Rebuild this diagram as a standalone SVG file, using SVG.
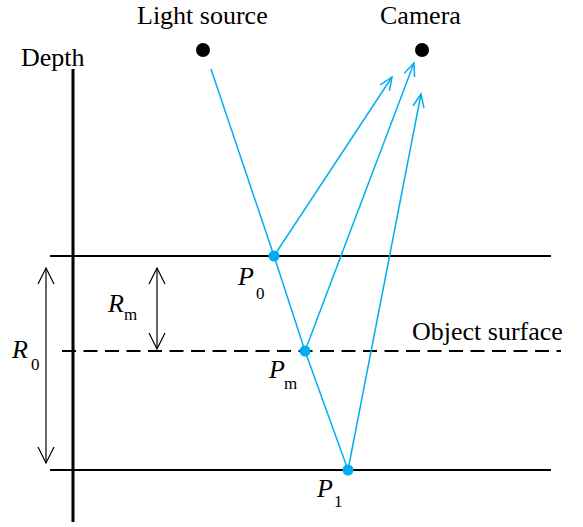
<svg xmlns="http://www.w3.org/2000/svg" width="583" height="527" viewBox="0 0 583 527">
<style>
text{font-family:'Liberation Serif','Times New Roman',Times,'DejaVu Serif',serif;fill:#000}
.t{font-size:26px}
.i{font-style:italic}
.s{font-size:17px}
.ray{stroke:#00AEEF;stroke-width:1.5;fill:none}
.dim{stroke:#000;stroke-width:1.2;fill:none}
.pt{fill:#00AEEF}
</style>
<defs>
<marker id="ba" markerUnits="userSpaceOnUse" viewBox="-16 -8 18 16" refX="0" refY="0" markerWidth="18" markerHeight="16" orient="auto">
<path d="M-13,-5.5 L0,0 L-13,5.5" fill="none" stroke="#00AEEF" stroke-width="1.5"/>
</marker>
<marker id="ka" markerUnits="userSpaceOnUse" viewBox="-18 -10 20 20" refX="0" refY="0" markerWidth="20" markerHeight="20" orient="auto-start-reverse">
<path d="M-16,-8 L0,0 L-16,8" fill="none" stroke="#000" stroke-width="1.2"/>
</marker>
</defs>
<g id="axes">
<line x1="73" y1="69" x2="73" y2="522" stroke="#000" stroke-width="3"/>
<line x1="50" y1="256" x2="551" y2="256" stroke="#000" stroke-width="2"/>
<line x1="62" y1="351" x2="561" y2="351" stroke="#000" stroke-width="2" stroke-dasharray="14 7.5"/>
<line x1="50" y1="470" x2="551" y2="470" stroke="#000" stroke-width="2"/>
</g>
<g id="connectors">
<line class="dim" x1="46" y1="268" x2="46" y2="463" marker-start="url(#ka)" marker-end="url(#ka)"/>
<line class="dim" x1="157" y1="268" x2="157" y2="349" marker-start="url(#ka)" marker-end="url(#ka)"/>
<polyline class="ray" points="211,69 274,256 305,351 348,470"/>
<line class="ray" x1="274" y1="256" x2="392" y2="77" marker-end="url(#ba)"/>
<line class="ray" x1="305" y1="351" x2="414" y2="63" marker-end="url(#ba)"/>
<line class="ray" x1="348" y1="470" x2="421" y2="94" marker-end="url(#ba)"/>
</g>
<g id="light-source">
<circle cx="203" cy="50" r="7" fill="#000"/>
<text class="t" x="137" y="24">Light source</text>
</g>
<g id="camera">
<circle cx="422" cy="50" r="7" fill="#000"/>
<text class="t" x="380" y="24">Camera</text>
</g>
<g id="depth"><text class="t" x="21" y="66">Depth</text></g>
<g id="object-surface"><text class="t" x="412" y="340">Object surface</text></g>
<g id="R0"><text class="t i" x="12" y="358">R</text><text class="s" x="31" y="370">0</text></g>
<g id="Rm"><text class="t i" x="108" y="312">R</text><text class="s" x="124" y="320">m</text></g>
<g id="P0"><circle class="pt" cx="274" cy="256" r="5.5"/><text class="t i" x="238" y="285">P</text><text class="s" x="256" y="299">0</text></g>
<g id="Pm"><circle class="pt" cx="305" cy="351" r="5.5"/><text class="t i" x="269" y="378">P</text><text class="s" x="284" y="389">m</text></g>
<g id="P1"><circle class="pt" cx="348" cy="470" r="5.5"/><text class="t i" x="317" y="497">P</text><text class="s" x="334" y="507">1</text></g>
</svg>
